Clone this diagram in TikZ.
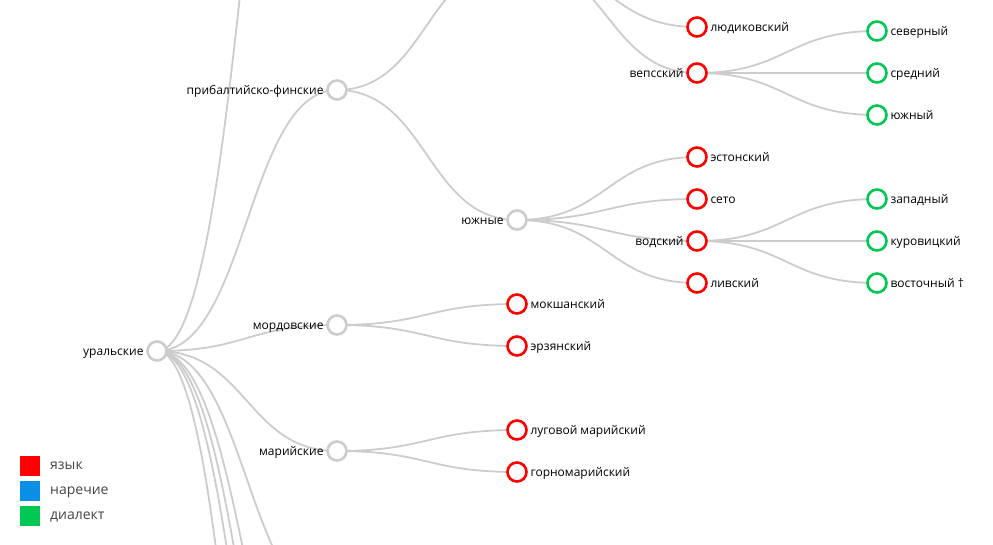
\documentclass[tikz,border=0pt]{standalone}
\usepackage{fontspec}
\setmainfont{Open Sans}
\usetikzlibrary{backgrounds}

\definecolor{linkgrey}{HTML}{CCCCCC}
\definecolor{langred}{HTML}{FF0000}
\definecolor{dialblue}{HTML}{0A8FE6}
\definecolor{dialgreen}{HTML}{00C853}
\definecolor{legtext}{HTML}{444444}

\tikzset{
  tnode/.style={circle, draw=#1, fill=white, line width=2.6pt, minimum size=19pt, inner sep=0pt},
  group/.style={tnode=linkgrey},
  lang/.style={tnode=langred},
  dial/.style={tnode=dialgreen},
  lab/.style={inner sep=0pt, font=\fontsize{12}{14}\selectfont, text height=8pt, text depth=0pt, label distance=2.5pt},
  link/.style={draw=linkgrey, line width=1.8pt},
  legbox/.style={minimum size=20pt, inner sep=0pt},
}

\newcommand\branch[2]{\draw[link] (#1.center) .. controls +(90,0) and +(-90,0) .. (#2.center);}

\begin{document}
\begin{tikzpicture}[x=1pt, y=-1pt]
  \useasboundingbox (0,0) rectangle (993,544);

  % root and first level
  \node[group, label={[lab]left:уральские}] (ural) at (157,351) {};
  \node[group, label={[lab]left:прибалтийско-финские}] (baltic) at (337,90) {};
  \node[group, label={[lab]left:мордовские}] (mordvin) at (337,325) {};
  \node[group, label={[lab]left:марийские}] (mari) at (337,451) {};

  % branches outside the picture
  \coordinate (upper) at (337,-490);
  \coordinate (north) at (517,-40);
  \coordinate (lowA) at (337,608);
  \coordinate (lowB) at (337,785);
  \coordinate (lowC) at (337,899);
  \coordinate (lowD) at (337,1036);
  \coordinate (lowE) at (337,1360);

  % second level
  \node[group, label={[lab]left:южные}] (south) at (517,220) {};
  \node[lang, label={[lab]right:мокшанский}] (moksha) at (517,304) {};
  \node[lang, label={[lab]right:эрзянский}] (erzya) at (517,346) {};
  \node[lang, label={[lab]right:луговой марийский}] (meadow) at (517,430) {};
  \node[lang, label={[lab]right:горномарийский}] (hill) at (517,472) {};

  % third level
  \node[lang, label={[lab]right:людиковский}] (ludic) at (697,27) {};
  \node[lang, label={[lab]left:вепсский}] (veps) at (697,73) {};
  \node[lang, label={[lab]right:эстонский}] (eston) at (697,157) {};
  \node[lang, label={[lab]right:сето}] (seto) at (697,199) {};
  \node[lang, label={[lab]left:водский}] (votic) at (697,241) {};
  \node[lang, label={[lab]right:ливский}] (livon) at (697,283) {};

  % dialects
  \node[dial, label={[lab]right:северный}] (vnorth) at (877,31) {};
  \node[dial, label={[lab]right:средний}] (vmid) at (877,73) {};
  \node[dial, label={[lab]right:южный}] (vsouth) at (877,115) {};
  \node[dial, label={[lab]right:западный}] (wwest) at (877,199) {};
  \node[dial, label={[lab]right:куровицкий}] (wkur) at (877,241) {};
  \node[dial, label={[lab]right:восточный †}] (weast) at (877,283) {};

  % links
  \begin{scope}[on background layer]
    \foreach \t in {upper,baltic,mordvin,mari,lowA,lowB,lowC,lowD,lowE}
      {\branch{ural}{\t}}
    \branch{baltic}{north}
    \branch{baltic}{south}
    \branch{north}{ludic}
    \branch{north}{veps}
    \foreach \t in {eston,seto,votic,livon}
      {\branch{south}{\t}}
    \branch{mordvin}{moksha}
    \branch{mordvin}{erzya}
    \branch{mari}{meadow}
    \branch{mari}{hill}
    \foreach \t in {vnorth,vmid,vsouth}
      {\branch{veps}{\t}}
    \foreach \t in {wwest,wkur,weast}
      {\branch{votic}{\t}}
  \end{scope}

  % legend
  \foreach \c/\txt [count=\i] in {langred/язык, dialblue/наречие, dialgreen/диалект}
  {
    \node[legbox, fill=\c] (key\i) at (30,441+25*\i) {};
    \node[anchor=west, inner sep=0pt, text height=7.5pt, text depth=0pt, text=legtext, font=\fontsize{14}{16}\selectfont] (keytext\i) at (50,441+25*\i) {\txt};
  }
\end{tikzpicture}
\end{document}
